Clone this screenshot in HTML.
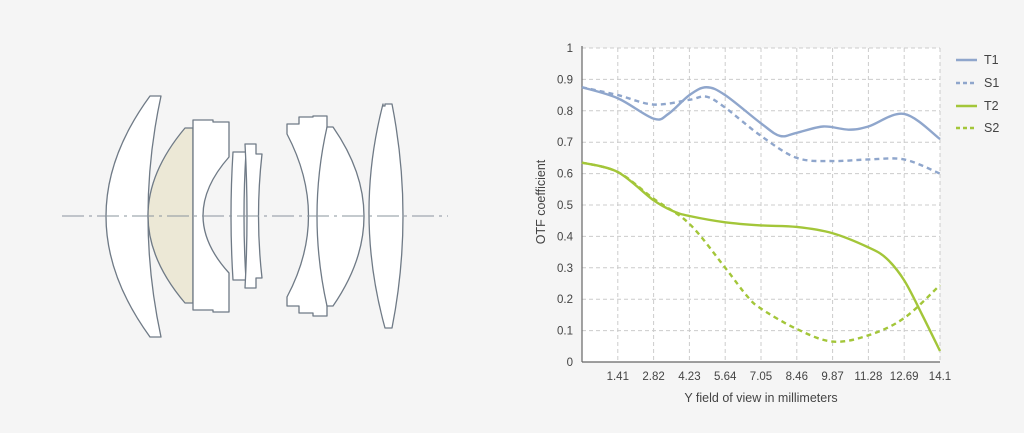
<!DOCTYPE html>
<html><head><meta charset="utf-8"><style>
html,body{margin:0;padding:0;background:#f5f5f5;width:1024px;height:433px;overflow:hidden}
text{font-family:"Liberation Sans",sans-serif;fill:#444}
</style></head><body>
<svg id="s" width="1024" height="433" xmlns="http://www.w3.org/2000/svg">
<rect width="1024" height="433" fill="#f5f5f5"/>
<g stroke="#6f7a86" stroke-width="1.3" fill="#fff" stroke-linejoin="round">
<path d="M150,96 L161,96 Q135,216 161,337 L150,337 Q62,216 150,96 Z"/>
<path d="M185,128 L193,128 L193,303 L185,303 Q111,216 185,128 Z" fill="#ece8d6"/>
<path d="M193,120 L213,120 L213,122 L229,122 L229,157 Q177,216 229,273 L229,312 L213,312 L213,310 L193,310 Z"/>
<path d="M233,152 L246,152 Q242,216 246,280 L233,280 Q229,216 233,152 Z"/>
<path d="M245,144 L256,144 L256,154 L262,154 Q255,216 262,278 L256,278 L256,288 L245,288 Q249,216 245,144 Z"/>
<path d="M287,134 L287,124 L299,124 L299,117 L313,117 L313,116 L327,116 L327,316 L313,316 L313,313 L299,313 L299,306 L287,306 L287,297 Q330,216 287,134 Z"/>
<path d="M327,127 L333,127 Q395,216 333,306 L327,306 Q307,216 327,127 Z"/>
<path d="M383,104 L383,106 L385,106 L385,104 L392,104 Q414,216 392,328 L385,328 Q354,216 383,104 Z"/>
</g>
<line x1="62" y1="216" x2="448" y2="216" stroke="#8a949e" stroke-width="1" stroke-dasharray="22,5,3,5"/>
<rect x="582" y="48" width="358" height="314" fill="#fff"/>
<g id="grid" stroke="#cccccc" stroke-width="1" stroke-dasharray="4,3"></g>
<line x1="582" y1="46" x2="582" y2="362" stroke="#666" stroke-width="1.2"/>
<line x1="582" y1="362" x2="940" y2="362" stroke="#666" stroke-width="1.2"/>
<g id="lab" font-size="11.5"></g>
<g id="curves" fill="none" stroke-width="2.4"></g>
<text x="761" y="402" font-size="12.5" text-anchor="middle">Y field of view in millimeters</text>
<text transform="translate(545,202) rotate(-90)" font-size="12.5" text-anchor="middle">OTF coefficient</text>
<g font-size="12.5">
<line x1="956" y1="60" x2="977" y2="60" stroke="#8fa6cc" stroke-width="2.4"/><text x="984" y="64">T1</text>
<line x1="956" y1="83" x2="977" y2="83" stroke="#8fa6cc" stroke-width="2.4" stroke-dasharray="4,3"/><text x="984" y="87">S1</text>
<line x1="956" y1="106" x2="977" y2="106" stroke="#a3c639" stroke-width="2.4"/><text x="984" y="110">T2</text>
<line x1="956" y1="128" x2="977" y2="128" stroke="#a3c639" stroke-width="2.4" stroke-dasharray="4,3"/><text x="984" y="132">S2</text>
</g>
</svg>
<script>
var NS="http://www.w3.org/2000/svg";
function X(v){return 582+v*25.39}function Y(v){return 362-v*314}
function el(t,a,p){var e=document.createElementNS(NS,t);for(var k in a)e.setAttribute(k,a[k]);document.getElementById(p).appendChild(e);return e}
for(var i=1;i<=10;i++){var y=Y(i/10);el('line',{x1:582,x2:940,y1:y,y2:y},'grid');}
var xs=["1.41","2.82","4.23","5.64","7.05","8.46","9.87","11.28","12.69","14.1"];
for(var i=1;i<=10;i++){var x=X(i*1.41);el('line',{x1:x,x2:x,y1:48,y2:362},'grid');
 var t=el('text',{x:x,y:380,'text-anchor':'middle'},'lab');t.textContent=xs[i-1];}
for(var i=0;i<=10;i++){var t=el('text',{x:573,y:Y(i/10)+4,'text-anchor':'end'},'lab');t.textContent=i==0?"0":i==10?"1":"0."+i;}
function path(pts){var p=pts.map(function(a){return[X(a[0]),Y(a[1])]});var d="M"+p[0][0]+","+p[0][1];
 for(var i=0;i<p.length-1;i++){var p0=p[i-1]||p[i],p1=p[i],p2=p[i+1],p3=p[i+2]||p2;
 d+="C"+(p1[0]+(p2[0]-p0[0])/6)+","+(p1[1]+(p2[1]-p0[1])/6)+" "+(p2[0]-(p3[0]-p1[0])/6)+","+(p2[1]-(p3[1]-p1[1])/6)+" "+p2[0]+","+p2[1];}return d;}
var B="#8fa6cc",G="#a3c639";
var S=[
[[[0,.875],[1.41,.84],[2.82,.775],[3.4,.79],[4.23,.85],[4.9,.875],[5.64,.85],[7.05,.76],[7.8,.72],[8.46,.73],[9.5,.75],[10.5,.74],[11.28,.75],[12.69,.79],[14.1,.71]],B,0],
[[[0,.875],[1.41,.85],[2.82,.82],[4.23,.835],[4.9,.845],[5.64,.81],[7.05,.72],[8.46,.65],[9.87,.64],[11.28,.645],[12.69,.645],[14.1,.6]],B,1],
[[[0,.635],[1.41,.605],[2.82,.515],[3.6,.48],[4.23,.465],[5.64,.445],[7.05,.435],[8.46,.43],[9.87,.41],[11.28,.365],[11.99,.33],[12.69,.26],[13.4,.15],[14.1,.035]],G,0],
[[[0,.635],[1.41,.605],[2.82,.52],[4.23,.44],[5.64,.30],[6.5,.21],[7.05,.17],[8.46,.105],[9.87,.065],[11.28,.085],[12.69,.14],[14.1,.245]],G,1]];
S.forEach(function(s){var a={d:path(s[0]),stroke:s[1]};if(s[2])a['stroke-dasharray']="5,4";el('path',a,'curves');});
</script>
</body></html>
